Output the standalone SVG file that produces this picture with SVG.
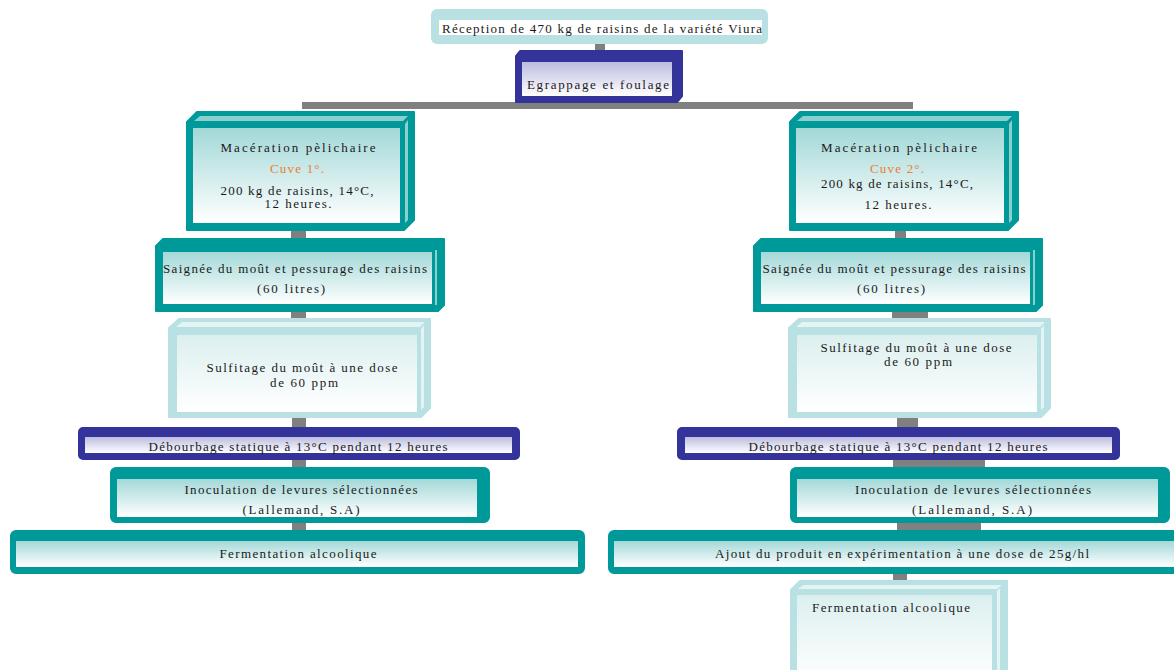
<svg xmlns="http://www.w3.org/2000/svg" width="1174" height="670" viewBox="0 0 1174 670">
<defs>
<linearGradient id="gTeal" x1="0" y1="0" x2="0" y2="1"><stop offset="0" stop-color="#a3d8d8"/><stop offset="1" stop-color="#ffffff"/></linearGradient>
<linearGradient id="gLight" x1="0" y1="0" x2="0" y2="1"><stop offset="0" stop-color="#dcefef"/><stop offset="1" stop-color="#ffffff"/></linearGradient>
<linearGradient id="gBlue" x1="0" y1="0" x2="0" y2="1"><stop offset="0" stop-color="#bcbce0"/><stop offset="1" stop-color="#ffffff"/></linearGradient>
</defs>
<style>
.teal{fill:#009999;stroke:#009999;stroke-width:2;stroke-linejoin:round}
.blue{fill:#333399;stroke:#333399;stroke-width:2;stroke-linejoin:round}
.light{fill:#b9e0e3;stroke:#b9e0e3;stroke-width:2;stroke-linejoin:round}
.tealhi{fill:#8ccfcf}
.lighthi{fill:#e4f3f4}
.fT{fill:url(#gTeal)}
.fL{fill:url(#gLight)}
.fB{fill:url(#gBlue)}
.con{fill:#808080}
text{font-family:"Liberation Serif","Times New Roman",serif;font-size:13px;fill:#1a1a1a;text-anchor:middle}
.or{fill:#ee7d31}
</style>

<g id="connectors">
<rect class="con" x="595" y="42" width="10" height="10"/>
<rect class="con" x="302" y="102" width="611" height="7"/>
<rect class="con" x="291" y="230" width="15" height="9"/>
<rect class="con" x="291" y="311" width="15" height="8"/>
<rect class="con" x="292" y="417" width="14" height="11"/>
<rect class="con" x="292" y="459" width="14" height="9"/>
<rect class="con" x="292" y="522" width="14" height="9"/>
<rect class="con" x="895" y="230" width="11" height="9"/>
<rect class="con" x="892" y="311" width="36" height="8"/>
<rect class="con" x="897" y="417" width="21" height="11"/>
<rect class="con" x="893" y="459" width="92" height="9"/>
<rect class="con" x="897" y="522" width="84" height="9"/>
<rect class="con" x="893" y="573" width="14" height="8"/>
</g>

<g id="reception">
<rect class="light" x="432" y="10" width="335" height="33" rx="5"/>
<rect x="439" y="20" width="323" height="15" fill="#ffffff"/>
<text x="602" y="33" textLength="320" lengthAdjust="spacing">Réception de 470 kg de raisins de la variété Viura</text>
</g>

<g id="egrappage">
<path class="blue" d="M520,51 L682,51 L682,96 L677,102 L516,102 L516,56 Z"/>
<rect class="fB" x="522" y="62" width="150" height="34"/>
<text x="598" y="89" textLength="142" lengthAdjust="spacing">Egrappage et foulage</text>
</g>

<g id="maceration1">
<path class="teal" d="M187,122 L197,112 L414,112 L414,220 L404,230 L187,230 Z"/>
<path class="tealhi" d="M194,121 L200,116 L408,116 L403,121 Z"/>
<path class="tealhi" d="M405,124 L408,120 L408,220 L405,223 Z"/>
<rect class="fT" x="193" y="128" width="207" height="95"/>
<text x="298" y="152" textLength="155" lengthAdjust="spacing">Macération pèlichaire</text>
<text class="or" x="297" y="173" textLength="54" lengthAdjust="spacing">Cuve 1°.</text>
<text x="297" y="195" textLength="153" lengthAdjust="spacing">200 kg de raisins, 14°C,</text>
<text x="298" y="208" textLength="67" lengthAdjust="spacing">12 heures.</text>
</g>

<g id="maceration2">
<path class="teal" d="M790,122 L800,112 L1018,112 L1018,220 L1008,230 L790,230 Z"/>
<path class="tealhi" d="M797,121 L803,116 L1012,116 L1007,121 Z"/>
<path class="tealhi" d="M1009,124 L1012,120 L1012,220 L1009,223 Z"/>
<rect class="fT" x="796" y="128" width="208" height="95"/>
<text x="899" y="152" textLength="156" lengthAdjust="spacing">Macération pèlichaire</text>
<text class="or" x="897" y="173" textLength="54" lengthAdjust="spacing">Cuve 2°.</text>
<text x="897" y="188" textLength="152" lengthAdjust="spacing">200 kg de raisins, 14°C,</text>
<text x="898" y="209" textLength="67" lengthAdjust="spacing">12 heures.</text>
</g>

<g id="saignee1">
<path class="teal" d="M156,246 L163,239 L444,239 L444,305 L438,311 L156,311 Z"/>
<path class="tealhi" d="M435,250 L437,250 L437,305 L435,305 Z"/>
<rect class="fT" x="163" y="252" width="269" height="52"/>
<text x="295" y="273" textLength="264" lengthAdjust="spacing">Saignée du moût et pessurage des raisins</text>
<text x="291" y="293" textLength="68" lengthAdjust="spacing">(60 litres)</text>
</g>

<g id="saignee2">
<path class="teal" d="M754,246 L761,239 L1042,239 L1042,305 L1036,311 L754,311 Z"/>
<path class="tealhi" d="M1033,250 L1035,250 L1035,305 L1033,305 Z"/>
<rect class="fT" x="761" y="252" width="269" height="52"/>
<text x="894" y="273" textLength="263" lengthAdjust="spacing">Saignée du moût et pessurage des raisins</text>
<text x="891" y="293" textLength="68" lengthAdjust="spacing">(60 litres)</text>
</g>

<g id="sulfitage1">
<path class="light" d="M169,328 L179,319 L430,319 L430,408 L421,417 L169,417 Z"/>
<path class="lighthi" d="M176,327 L182,322 L425,322 L420,327 Z"/>
<path class="lighthi" d="M421,329 L424,325 L424,407 L421,410 Z"/>
<rect class="fL" x="177" y="335" width="240" height="77"/>
<text x="302" y="372" textLength="191" lengthAdjust="spacing">Sulfitage du moût à une dose</text>
<text x="304" y="387" textLength="68" lengthAdjust="spacing">de 60 ppm</text>
</g>

<g id="sulfitage2">
<path class="light" d="M789,328 L799,319 L1050,319 L1050,408 L1041,417 L789,417 Z"/>
<path class="lighthi" d="M796,327 L802,322 L1045,322 L1040,327 Z"/>
<path class="lighthi" d="M1041,329 L1044,325 L1044,407 L1041,410 Z"/>
<rect class="fL" x="797" y="335" width="240" height="77"/>
<text x="916" y="352" textLength="191" lengthAdjust="spacing">Sulfitage du moût à une dose</text>
<text x="918" y="366" textLength="68" lengthAdjust="spacing">de 60 ppm</text>
</g>

<g id="debourbage1">
<rect class="blue" x="79" y="428" width="440" height="31" rx="4"/>
<rect class="fB" x="85" y="437" width="427" height="16"/>
<text x="298" y="451" textLength="299" lengthAdjust="spacing">Débourbage statique à 13°C pendant 12 heures</text>
</g>

<g id="debourbage2">
<rect class="blue" x="678" y="428" width="441" height="31" rx="4"/>
<rect class="fB" x="685" y="437" width="427" height="16"/>
<text x="898" y="451" textLength="299" lengthAdjust="spacing">Débourbage statique à 13°C pendant 12 heures</text>
</g>

<g id="inoculation1">
<rect class="teal" x="111" y="468" width="378" height="54" rx="5"/>
<rect class="fT" x="117" y="479" width="360" height="38"/>
<text x="301" y="494" textLength="233" lengthAdjust="spacing">Inoculation de levures sélectionnées</text>
<text x="301" y="514" textLength="117" lengthAdjust="spacing">(Lallemand, S.A)</text>
</g>

<g id="inoculation2">
<rect class="teal" x="791" y="468" width="378" height="54" rx="5"/>
<rect class="fT" x="797" y="479" width="361" height="38"/>
<text x="973" y="494" textLength="236" lengthAdjust="spacing">Inoculation de levures sélectionnées</text>
<text x="972" y="514" textLength="120" lengthAdjust="spacing">(Lallemand, S.A)</text>
</g>

<g id="fermentation1">
<rect class="teal" x="11" y="531" width="573" height="42" rx="5"/>
<rect class="fT" x="16" y="541" width="562" height="26"/>
<text x="298" y="558" textLength="157" lengthAdjust="spacing">Fermentation alcoolique</text>
</g>

<g id="ajout">
<rect class="teal" x="609" y="531" width="580" height="42" rx="5"/>
<rect class="fT" x="614" y="541" width="580" height="26"/>
<text x="902" y="558" textLength="374" lengthAdjust="spacing">Ajout du produit en expérimentation à une dose de 25g/hl</text>
</g>

<g id="fermentation2">
<path class="light" d="M791,590 L800,581 L1007,581 L1007,680 L791,680 Z"/>
<path class="lighthi" d="M798,589 L803,585 L1002,585 L997,589 Z"/>
<path class="lighthi" d="M997,591 L1000,588 L1000,680 L997,680 Z"/>
<rect class="fL" x="797" y="595" width="195" height="85"/>
<text x="891" y="612" textLength="158" lengthAdjust="spacing">Fermentation alcoolique</text>
</g>
</svg>
